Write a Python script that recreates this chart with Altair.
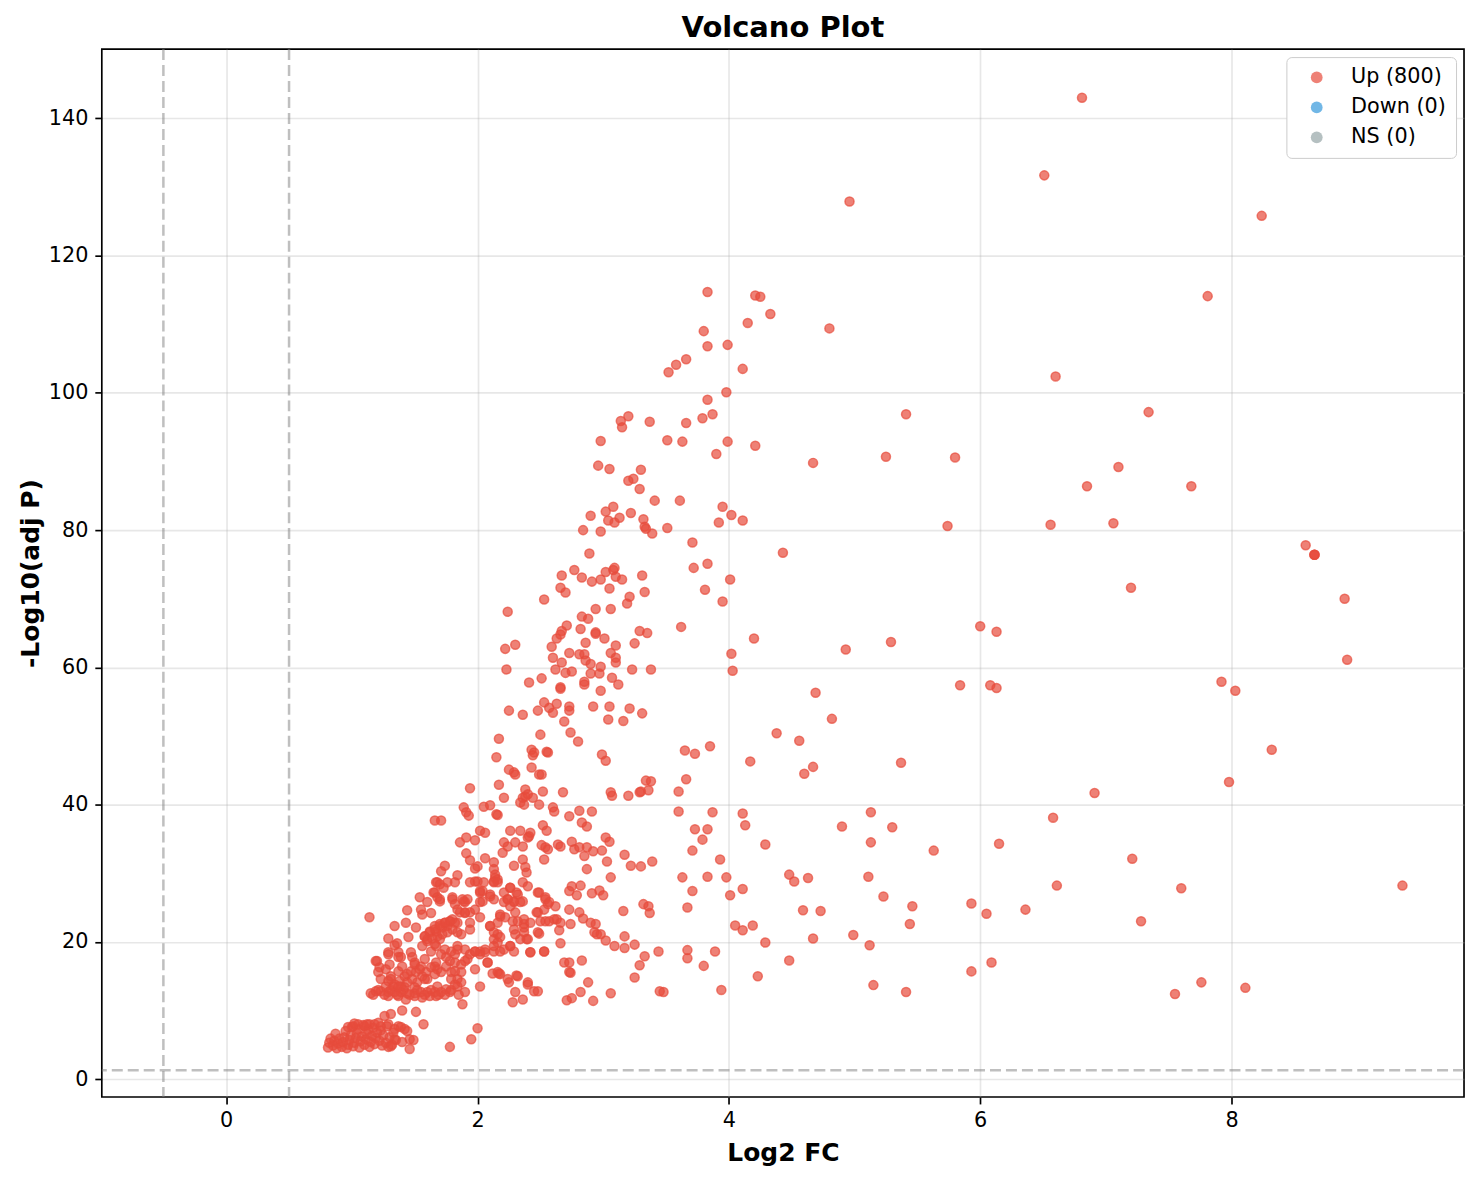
import altair as alt
import pandas as pd

# ---------------- data ----------------
categories = ["Up (800)", "Down (0)", "NS (0)"]
cat_colors = ["#e74c3c", "#3498db", "#95a5a6"]
x_ticks = [0, 2, 4, 6, 8]
y_ticks = [0, 20, 40, 60, 80, 100, 120, 140]
vlines = [-0.5, 0.5]
hlines = [1.3]

# (log2 fold change, -log10 adjusted p) pairs, grouped by region of the plot
pts_peak = [
    (3.20, 96.6), (3.14, 95.9), (3.15, 95.0), (3.37, 95.8), (3.66, 95.6), (3.79, 96.3), (3.87, 96.9),
    (3.83, 99.0), (2.98, 93.0), (3.51, 93.1), (3.63, 92.9), (3.99, 92.9), (3.90, 91.1), (2.96, 89.4),
    (3.05, 88.9), (3.30, 88.8), (3.20, 87.2), (3.24, 87.5), (3.29, 86.0), (3.41, 84.3), (3.61, 84.3),
    (3.95, 83.4), (4.02, 82.2), (3.92, 81.1), (3.02, 82.7), (3.08, 83.4), (2.90, 82.1), (3.22, 82.5),
    (3.13, 81.8), (3.04, 81.4), (3.09, 81.1), (3.32, 81.6), (3.33, 80.5), (3.34, 80.2), (3.39, 79.5),
    (3.51, 80.3), (2.84, 80.0), (2.98, 79.8), (3.71, 78.2), (2.89, 76.6), (3.72, 74.5), (3.83, 75.1),
    (2.77, 74.2), (2.67, 73.4), (2.83, 73.1), (2.91, 72.5), (2.98, 72.8), (3.02, 73.9), (3.08, 74.2),
    (3.09, 74.5), (3.10, 73.2), (3.15, 72.8), (3.31, 73.4), (4.01, 72.8), (2.66, 71.6), (2.70, 70.9),
    (3.05, 71.5), (3.33, 71.0), (3.81, 71.3), (2.53, 69.9), (3.21, 70.3), (3.19, 69.3), (3.95, 69.6),
    (2.24, 68.1), (2.94, 68.5), (3.06, 68.5), (2.83, 67.4), (2.88, 67.1), (2.71, 66.1), (2.67, 65.3),
    (2.63, 64.2), (2.66, 64.8), (2.82, 65.6), (2.94, 65.1), (2.94, 64.9), (3.01, 64.2), (3.29, 65.3),
    (3.35, 65.0), (3.62, 65.9), (2.30, 63.3), (2.22, 62.7), (2.59, 63.0), (2.86, 63.6), (3.10, 63.2),
    (3.25, 63.5),
    (3.83, 114.7), (4.21, 114.2), (4.25, 114.0), (4.33, 111.5), (4.15, 110.2), (4.80, 109.4),
    (3.80, 109.0), (3.83, 106.8), (3.99, 107.0), (3.66, 104.9), (3.58, 104.1), (3.52, 103.0),
    (4.11, 103.5), (3.98, 100.1), (4.21, 92.3), (4.67, 89.8),
]

pts_mid = [
    (2.23, 59.7), (2.60, 61.4), (2.67, 60.7), (2.62, 59.7), (2.70, 59.2), (2.75, 59.4), (2.73, 62.1),
    (2.81, 61.9), (2.85, 61.9), (2.86, 61.0), (2.90, 60.5), (2.98, 60.1), (2.90, 59.1), (2.97, 59.1),
    (3.06, 62.1), (3.10, 61.4), (3.10, 60.7), (3.23, 59.7), (3.38, 59.7), (3.07, 58.5), (3.12, 57.5),
    (2.98, 56.6), (2.85, 57.9), (2.85, 57.5), (2.66, 57.1), (2.66, 56.9), (2.41, 57.8), (2.51, 58.4),
    (2.25, 53.7), (2.36, 53.1), (2.48, 53.7), (2.53, 54.9), (2.57, 54.1), (2.60, 53.4), (2.63, 54.7),
    (2.73, 54.3), (2.73, 53.7), (2.69, 52.1), (2.92, 54.3), (3.05, 54.3), (3.04, 52.4), (3.16, 52.2),
    (3.21, 54.0), (3.31, 53.3), (2.74, 50.5), (2.80, 49.2), (2.50, 50.2), (2.17, 49.6), (2.43, 48.0),
    (2.45, 47.6), (2.44, 47.2), (2.55, 47.7), (2.56, 47.6), (2.99, 47.3), (3.02, 46.4), (2.15, 46.9),
    (2.25, 45.1), (2.29, 44.7), (2.30, 44.4), (2.43, 45.4), (2.49, 44.4), (2.51, 44.4), (3.65, 47.9),
    (3.73, 47.4), (1.94, 42.4), (2.17, 42.9), (2.21, 41.0), (2.38, 42.2), (2.36, 41.0), (2.38, 41.2),
    (2.40, 41.5), (2.44, 41.0), (2.34, 40.3), (2.37, 40.0), (2.49, 40.0), (2.52, 41.9), (2.68, 41.8),
    (3.06, 41.8), (3.07, 41.3), (3.20, 41.3), (3.29, 41.8), (3.30, 41.9), (3.34, 43.5), (3.38, 43.4),
    (3.36, 42.1), (3.66, 43.7), (3.60, 41.9), (3.60, 39.0), (1.89, 39.6), (1.91, 38.9), (1.93, 38.4),
    (2.05, 39.7), (2.10, 39.9), (2.15, 38.6), (2.16, 38.5), (2.60, 39.6), (2.61, 39.0), (2.73, 38.3),
    (2.81, 39.1), (2.91, 39.0), (2.83, 37.4), (2.87, 36.8), (2.52, 37.0), (2.55, 36.2), (1.71, 37.7),
    (1.66, 37.7), (3.73, 36.4), (2.02, 36.2), (2.06, 35.9), (2.26, 36.2), (2.34, 36.2), (2.42, 35.9),
    (2.41, 35.4), (2.40, 35.2), (1.86, 34.5), (1.91, 35.2), (1.98, 34.8), (2.21, 34.5), (2.24, 33.9),
    (2.20, 33.0), (2.30, 34.5), (2.36, 33.9), (2.51, 34.1), (2.54, 33.8), (2.56, 33.5), (2.64, 34.2),
    (2.66, 33.9), (2.75, 34.6), (2.77, 33.5), (2.81, 33.8), (2.87, 33.8), (2.85, 32.5), (2.92, 33.2),
    (2.99, 33.3), (3.02, 35.2), (3.05, 34.6), (3.17, 32.7), (3.22, 31.1), (3.30, 31.0), (3.39, 31.7),
    (3.03, 31.7), (2.87, 30.6), (3.71, 33.3), (1.91, 32.9), (1.94, 31.9), (2.00, 31.0), (1.98, 30.7),
    (2.06, 32.2), (2.13, 31.6), (2.13, 30.6), (2.14, 29.8), (2.29, 31.1), (2.36, 32.0), (2.38, 30.9),
    (2.39, 30.1), (2.53, 32.0), (1.74, 31.1), (1.71, 30.3), (1.84, 29.7), (3.06, 29.4), (3.63, 29.4),
]

pts_dense = [
    (1.67, 28.7), (1.70, 28.4), (1.65, 27.2), (1.68, 26.5), (1.70, 25.9), (1.54, 26.5), (1.60, 25.8),
    (1.44, 24.6), (1.55, 24.7), (1.56, 24.0), (1.63, 24.2), (1.14, 23.6), (1.34, 22.3), (1.43, 22.8),
    (1.51, 22.1), (1.29, 20.5), (1.36, 19.8), (1.34, 19.5), (1.45, 20.7), (1.58, 20.8), (1.62, 21.5),
    (1.66, 22.3), (1.70, 22.6), (1.74, 22.8), (1.78, 23.0), (1.80, 23.3), (1.60, 20.4), (1.67, 21.5),
    (1.72, 22.1), (1.76, 22.3), (1.80, 26.2), (1.82, 25.5), (1.89, 25.9), (1.92, 26.2), (1.86, 24.3),
    (1.90, 24.2), (1.94, 24.3), (1.84, 22.8), (1.94, 21.8), (1.87, 21.1), (2.02, 23.6), (2.02, 25.8),
    (2.04, 25.9), (2.02, 27.4), (2.00, 28.8), (1.98, 28.8), (1.94, 28.7), (2.10, 22.3), (2.16, 21.1),
    (2.13, 20.4), (2.16, 19.9), (2.13, 28.7), (2.14, 29.3), (2.16, 29.1), (2.26, 27.9), (2.31, 27.2),
    (2.24, 26.2), (2.29, 25.8), (2.36, 25.9), (2.18, 24.0), (2.22, 23.6), (2.28, 23.0), (2.32, 23.0),
    (2.37, 22.6), (2.37, 22.1), (2.48, 27.2), (2.54, 26.2), (2.56, 25.5), (2.47, 24.3), (2.54, 23.0),
    (2.61, 23.3), (2.49, 21.2), (2.30, 21.1), (2.39, 20.4), (2.26, 19.4), (2.21, 18.9), (2.13, 18.6),
    (2.42, 18.5), (2.53, 18.6), (2.06, 18.9), (2.02, 18.6), (2.02, 18.2), (2.08, 17.0), (2.12, 15.4),
    (2.17, 15.4), (2.02, 13.5), (2.25, 14.1), (2.31, 15.1), (2.40, 13.8), (2.45, 12.8), (2.48, 12.8),
    (2.30, 12.7), (2.28, 11.2), (2.36, 11.6), (2.00, 7.4), (1.95, 5.8), (1.78, 4.7), (1.88, 10.9),
    (1.90, 12.7), (1.84, 14.6), (1.87, 14.1), (1.82, 13.8), (1.75, 13.1), (1.78, 12.7), (1.71, 12.7),
    (1.82, 15.7), (1.87, 15.6), (1.79, 15.6), (1.75, 16.4), (1.78, 17.2), (1.82, 17.0), (1.87, 16.7),
    (1.90, 17.2), (1.94, 18.2), (1.98, 18.6), (1.84, 19.4), (1.90, 18.9), (1.79, 18.6), (1.82, 18.2),
    (1.74, 18.9), (1.71, 18.2), (1.75, 17.8), (1.67, 19.4), (1.70, 20.4), (1.63, 18.6), (1.67, 17.0),
    (1.68, 16.0), (1.63, 16.3), (1.66, 15.3), (1.58, 17.5), (1.55, 16.4), (1.59, 15.6), (1.56, 15.0),
    (1.60, 14.6), (1.48, 17.8), (1.50, 16.7), (1.47, 15.7), (1.51, 15.6), (1.48, 14.6), (1.52, 14.1),
    (1.50, 13.4), (1.37, 18.5), (1.39, 17.8), (1.40, 16.4), (1.37, 15.7), (1.42, 15.0), (1.38, 14.3),
    (1.29, 18.5), (1.30, 16.7), (1.27, 16.0), (1.31, 15.0), (1.29, 14.3), (1.33, 13.5), (1.20, 17.2),
    (1.22, 16.3), (1.21, 15.6), (1.15, 12.5), (1.19, 12.8), (1.23, 12.8), (1.29, 12.7), (1.34, 12.7),
    (1.39, 12.7), (1.44, 12.5), (1.50, 12.5), (1.55, 12.7), (1.60, 12.7), (1.66, 12.7), (1.29, 12.1),
    (1.37, 12.1), (1.43, 11.6), (1.50, 12.1), (1.56, 11.9), (1.62, 12.1), (1.67, 12.1), (1.23, 14.6),
    (1.27, 13.5), (1.34, 13.8), (1.39, 13.5), (1.44, 14.1), (1.42, 13.4), (1.51, 9.8), (1.57, 8.0),
    (1.40, 10.0), (1.31, 9.5), (1.26, 9.2), (1.46, 5.8), (1.49, 5.7), (1.46, 4.4), (1.40, 5.4),
    (1.42, 7.3), (1.44, 7.0), (1.39, 7.6), (1.34, 5.8), (1.31, 4.8), (1.29, 4.7), (1.37, 7.7),
    (1.34, 7.3), (1.29, 8.0), (1.23, 7.7), (1.18, 8.0), (1.14, 8.0), (1.10, 7.7), (1.05, 8.0),
    (1.01, 7.7), (0.97, 7.6),
    (1.17, 12.3), (1.21, 13.0), (1.26, 12.3), (1.31, 13.0), (1.36, 12.3), (1.41, 13.0), (1.46, 12.3),
    (1.52, 13.0), (1.58, 12.3), (1.63, 13.0), (1.69, 12.3), (1.74, 12.3), (1.79, 13.0), (1.85, 12.3),
    (1.66, 27.2), (1.70, 26.2), (1.73, 27.9), (1.68, 28.7), (1.76, 28.7), (1.82, 28.7), (1.80, 26.5),
    (1.88, 26.2), (1.90, 25.8), (1.84, 24.7), (1.90, 24.3), (1.94, 22.8), (1.98, 24.7), (2.02, 27.2),
    (2.05, 28.7), (2.13, 28.8), (2.16, 28.7), (2.10, 26.9), (2.13, 26.2), (2.21, 27.2), (2.26, 27.9),
    (2.32, 26.9), (2.34, 25.8), (2.29, 25.9), (2.24, 26.2), (2.36, 28.7), (2.40, 28.1), (2.49, 27.2),
    (2.54, 26.5), (2.57, 25.8), (2.53, 24.7), (2.48, 24.3),
    (1.58, 20.8), (1.62, 21.4), (1.66, 21.8), (1.70, 22.3), (1.74, 22.8), (1.78, 23.0), (1.82, 22.8),
    (1.60, 20.1), (1.64, 20.5), (1.68, 20.8), (1.72, 21.1), (1.76, 21.4), (1.80, 21.8), (1.84, 21.4),
    (1.56, 19.4), (1.66, 19.7),
    (1.19, 17.2), (1.29, 18.2), (1.37, 17.8), (1.47, 18.5), (1.50, 17.0), (1.54, 16.0), (1.44, 15.3),
    (1.31, 14.6), (1.37, 13.5), (1.58, 14.6), (1.66, 16.4), (1.71, 15.6), (1.79, 14.6), (1.84, 13.5),
    (1.68, 13.5),
    (1.98, 18.6), (2.06, 18.5), (2.13, 19.4), (2.18, 18.6), (2.26, 19.4), (2.29, 18.6), (2.42, 18.5),
    (2.53, 18.6), (2.08, 17.0), (2.16, 15.6), (2.18, 15.3), (2.24, 14.6), (2.32, 15.0), (2.40, 14.1),
    (1.92, 17.5), (1.98, 16.0), (1.84, 18.9),
    (2.04, 27.4), (2.10, 26.6), (2.21, 25.8), (2.26, 25.2), (2.30, 24.3), (2.18, 23.7), (2.37, 23.3),
    (2.42, 22.8), (2.50, 23.0), (2.57, 23.0), (2.48, 21.4), (2.37, 21.4), (2.29, 21.8), (2.16, 22.8),
    (2.10, 22.3), (2.13, 21.4), (2.18, 20.7), (2.34, 20.4), (2.40, 20.4),
]

pts_bottom = [
    (0.81, 4.6), (0.82, 5.3), (0.83, 5.9), (0.85, 4.9), (0.86, 5.6), (0.88, 4.5), (0.89, 5.2),
    (0.90, 5.9), (0.92, 4.7), (0.93, 5.4), (0.94, 6.1), (0.96, 4.5), (0.97, 5.0), (0.98, 5.7),
    (0.99, 6.4), (1.00, 7.6), (1.01, 4.8), (1.02, 5.3), (1.03, 6.0), (1.04, 6.7), (1.05, 7.3),
    (1.06, 4.6), (1.07, 5.5), (1.08, 6.2), (1.09, 7.9), (1.10, 5.0), (1.11, 5.8), (1.12, 6.6),
    (1.13, 7.2), (1.14, 4.7), (1.15, 5.4), (1.16, 6.3), (1.17, 7.5), (1.18, 5.1), (1.19, 6.0),
    (1.20, 6.8), (1.22, 5.6), (1.23, 7.1), (1.24, 4.9), (1.25, 6.4), (1.27, 5.3), (1.28, 7.7),
    (1.30, 6.1), (1.32, 5.0), (1.33, 6.8), (1.35, 5.7), (0.87, 6.6), (0.95, 7.0), (1.02, 8.1),
    (1.12, 8.0), (1.21, 8.2),
]

pts_lower_right = [
    (2.73, 27.4), (2.75, 28.1), (2.82, 28.2), (2.79, 26.8), (2.91, 27.1), (2.97, 27.5), (3.00, 26.8),
    (2.62, 25.2), (2.73, 24.7), (2.81, 24.3), (2.84, 23.4), (2.90, 22.8), (2.94, 22.6), (2.93, 21.4),
    (2.95, 21.1), (2.98, 21.1), (3.02, 20.2), (3.09, 19.4), (2.63, 23.3), (2.66, 22.8), (2.65, 21.7),
    (2.74, 22.6), (2.66, 19.8), (2.69, 17.0), (2.73, 17.0), (2.73, 15.6), (2.74, 15.5), (2.83, 17.3),
    (2.88, 14.1), (2.71, 11.5), (2.75, 11.8), (2.82, 12.7), (2.92, 11.4), (3.06, 12.5), (3.16, 24.5),
    (3.17, 20.8), (3.17, 19.1), (3.25, 19.6), (3.32, 25.5), (3.36, 25.2), (3.37, 24.2), (3.33, 17.9),
    (3.29, 16.6), (3.25, 14.8), (3.44, 18.6), (3.45, 12.8), (3.48, 12.7), (3.71, 27.4), (3.83, 29.5),
    (3.98, 29.4), (4.01, 26.8), (4.11, 27.7), (3.67, 25.0), (4.05, 22.4), (4.11, 21.7), (4.19, 22.4),
    (4.29, 19.9), (3.67, 18.8), (3.67, 17.6), (3.89, 18.6), (3.80, 16.5), (4.23, 15.0), (3.94, 13.0),
    (4.48, 17.3), (4.48, 29.8), (4.52, 28.8),
    (4.11, 81.4), (4.43, 76.7), (4.20, 64.2), (4.02, 62.0), (4.03, 59.5), (4.93, 62.6), (5.29, 63.7),
    (4.69, 56.3), (4.82, 52.5),
    (4.38, 50.4), (4.56, 49.3), (4.17, 46.3), (4.60, 44.5), (4.67, 45.5), (5.37, 46.1), (3.85, 48.5),
    (3.87, 38.9), (4.11, 38.7), (4.13, 37.0), (3.83, 36.4), (3.79, 34.9), (3.93, 32.0), (4.29, 34.2),
    (4.90, 36.8), (5.13, 38.9), (5.13, 34.5), (5.30, 36.7), (5.63, 33.3), (4.63, 29.3), (5.11, 29.5),
    (5.23, 26.6), (5.46, 25.2), (5.44, 22.6), (4.59, 24.6), (4.73, 24.5), (4.67, 20.5), (4.99, 21.0),
    (5.12, 19.5), (5.15, 13.7), (5.41, 12.7),
]

pts_far_right = [
    (6.81, 143.0), (6.51, 131.7), (8.24, 125.8), (7.81, 114.1), (6.60, 102.4), (7.34, 97.2),
    (5.80, 90.6), (7.10, 89.2), (6.85, 86.4), (7.68, 86.4), (5.74, 80.6), (6.56, 80.8), (7.06, 81.0),
    (4.96, 127.9), (5.25, 90.7), (5.41, 96.9),
    (8.59, 77.8), (8.66, 76.4), (8.66, 76.4), (8.66, 76.4), (7.20, 71.6), (8.90, 70.0), (6.00, 66.0),
    (6.13, 65.2), (8.92, 61.1), (5.84, 57.4), (6.08, 57.4), (6.13, 57.0), (7.92, 57.9), (8.03, 56.6),
    (8.32, 48.0), (7.98, 43.3), (6.91, 41.7), (6.58, 38.1), (6.15, 34.3), (7.21, 32.1), (6.61, 28.2),
    (7.60, 27.8), (9.36, 28.2), (5.93, 25.6), (6.05, 24.1), (6.36, 24.7), (7.28, 23.0), (5.93, 15.7),
    (6.09, 17.0), (7.55, 12.4), (7.76, 14.1), (8.11, 13.3),
]

all_pts = pts_peak + pts_mid + pts_dense + pts_bottom + pts_lower_right + pts_far_right
df = pd.DataFrame(all_pts, columns=["log2fc", "nlp"])
df["group"] = categories[0]

FONT = "DejaVu Sans"
x_scale = alt.Scale(domain=[-0.99, 9.85], nice=False, zero=False)
y_scale = alt.Scale(domain=[-2.6, 150.1], nice=False, zero=False)
color_scale = alt.Scale(domain=categories, range=cat_colors)

points = alt.Chart(df).mark_point(
    filled=True, shape="circle", size=82, fillOpacity=0.7, strokeOpacity=0.7, strokeWidth=1.5
).encode(
    x=alt.X("log2fc:Q", scale=x_scale, title="Log2 FC",
            axis=alt.Axis(values=x_ticks, format="d", titlePadding=10)),
    y=alt.Y("nlp:Q", scale=y_scale, title="-Log10(adj P)",
            axis=alt.Axis(values=y_ticks, format="d", titlePadding=5)),
    fill=alt.Fill("group:N", scale=color_scale,
                  legend=alt.Legend(title=None, orient="top-right", offset=8)),
    stroke=alt.Stroke("group:N", scale=color_scale, legend=None),
)

vrule = alt.Chart(pd.DataFrame({"log2fc": vlines})).mark_rule(
    color="#808080", opacity=0.5, strokeDash=[11, 5], strokeWidth=2.5
).encode(x=alt.X("log2fc:Q", scale=x_scale, title="Log2 FC"))

hrule = alt.Chart(pd.DataFrame({"nlp": hlines})).mark_rule(
    color="#808080", opacity=0.5, strokeDash=[11, 5], strokeWidth=2.5
).encode(y=alt.Y("nlp:Q", scale=y_scale, title="-Log10(adj P)"))

chart = alt.layer(points, vrule, hrule).properties(
    width=1365,
    height=1050,
    title=alt.Title("Volcano Plot", fontSize=29, fontWeight="bold", font=FONT, color="black",
                    anchor="middle", frame="group", offset=5),
    autosize=alt.AutoSizeParams(type="none"),
    padding={"left": 94, "top": 40, "right": 10, "bottom": 70},
).configure_view(
    stroke="black", strokeWidth=1.67
).configure_axis(
    domain=False, grid=True, gridColor="#b0b0b0", gridOpacity=0.3, gridWidth=1.67,
    ticks=True, tickColor="black", tickSize=7, tickWidth=1.67,
    labelFont=FONT, labelFontSize=20.8, labelColor="black", labelPadding=7,
    titleFont=FONT, titleFontSize=25, titleFontWeight="bold", titleColor="black",
).configure_legend(
    labelFont=FONT, labelFontSize=20.8, labelColor="black",
    symbolType="circle", symbolSize=140, symbolOpacity=0.7, symbolStrokeWidth=0,
    padding=10, symbolOffset=10, labelOffset=24, rowPadding=8,
    strokeColor="#cccccc", fillColor="white", cornerRadius=5,
)

chart.save("out.html", embed_options={"renderer": "svg", "actions": False})
